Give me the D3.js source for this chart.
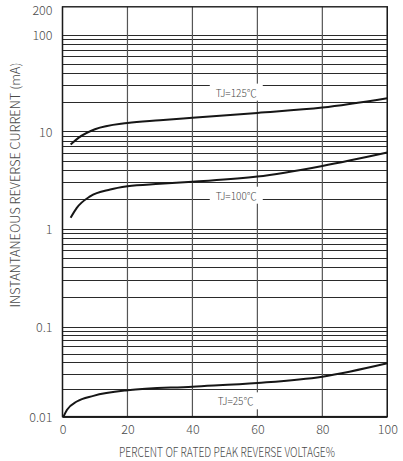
<!DOCTYPE html>
<html>
<head>
<meta charset="utf-8">
<script src="https://cdn.jsdelivr.net/npm/d3@7"></script>
<style>
  body { margin: 0; background: #fff; }
  svg text { font-family: "Noto Sans CJK SC", "Noto Sans", sans-serif; font-weight: 300; fill: #4a4a4a; }
</style>
</head>
<body>
<svg id="chart" width="403" height="461"></svg>
<script>
"use strict";

// percent of rated peak reverse voltage
const pct125 = [2.5, 5, 10, 20, 30, 40, 60, 80, 100]
const cur125 = [7.3, 8.6, 10.5, 12.2, 13.0, 13.8, 15.5, 17.6, 22]

const pct100 = [2.5, 4.4, 8.5, 14.7, 20, 30, 40, 60, 80, 100]
const cur100 = [1.29, 1.63, 2.14, 2.52, 2.72, 2.88, 3.03, 3.42, 4.4, 6.05]

const pct25 = [0.3, 1.4, 4.4, 9.5, 20, 40, 60, 80, 100]
const cur25 = [0.01, 0.0119, 0.0147, 0.017, 0.0196, 0.0215, 0.0236, 0.0277, 0.039]

const seriesLabels = ["TJ=125℃", "TJ=100℃", "TJ=25℃"]

const xTicks = [0, 20, 40, 60, 80, 100]
const yTicks = [0.01, 0.1, 1, 10, 100, 200]
const yTickLabels = ["0.01", "0.1", "1", "10", "100", "200"]

const svg = d3.select("#chart")
const pLeft = 62.5, pRight = 387.3, pTop = 6.8, pBottom = 416.6

let x = d3.scaleLinear().domain([0, 100]).range([pLeft, pRight])
// decades in the source are not quite equal, so the log scale is piecewise
let y = d3.scaleLog()
  .domain([0.01, 0.1, 1, 10, 100, 200])
  .range([pBottom, 326.5, 228.5, 131.3, 34.8, pTop])

// horizontal grid: decade lines + 2..9 in every full decade
let hLines = []
for (let d = 0.01; d < 50; d *= 10) {
  for (let k = 1; k <= 9; k++) hLines.push(+(d * k).toPrecision(3))
}
hLines.push(100)

const grid = svg.append("g")
grid.selectAll("line.h").data(hLines).enter().append("line")
  .attr("class", "h")
  .attr("x1", pLeft).attr("x2", pRight)
  .attr("y1", d => Math.round(y(d)) + 0.5).attr("y2", d => Math.round(y(d)) + 0.5)
  .attr("stroke", "#2a2a2a").attr("stroke-width", 1)

grid.selectAll("line.v").data(xTicks).enter().append("line")
  .attr("class", "v")
  .attr("x1", d => x(d)).attr("x2", d => x(d))
  .attr("y1", pTop).attr("y2", pBottom)
  .attr("stroke", "#555").attr("stroke-width", 1.2)

svg.append("rect")
  .attr("x", pLeft).attr("y", pTop)
  .attr("width", pRight - pLeft).attr("height", pBottom - pTop)
  .attr("fill", "none").attr("stroke", "#1a1a1a").attr("stroke-width", 1.4)

// axes (text only, no tick marks)
let xAxis = svg.append("g")
  .attr("transform", "translate(0," + (pBottom + 4) + ")")
  .call(d3.axisBottom(x).tickValues(xTicks).tickSize(0).tickPadding(5))
xAxis.select(".domain").remove()
xAxis.selectAll("text").attr("font-size", 12.5).attr("fill", null)
  .style("font-family", null)

let yAxis = svg.append("g")
  .attr("transform", "translate(" + (pLeft - 10) + ",0)")
  .call(d3.axisLeft(y).tickValues(yTicks).tickFormat((d, i) => yTickLabels[i]).tickSize(0).tickPadding(0))
yAxis.select(".domain").remove()
yAxis.selectAll("text").attr("font-size", 12.5).attr("fill", null)
  .style("font-family", null)
  .attr("dy", d => d === 200 ? "0.6em" : "0.38em")

svg.append("text")
  .attr("x", 227).attr("y", 457)
  .attr("text-anchor", "middle").attr("font-size", 12.5)
  .attr("textLength", 216).attr("lengthAdjust", "spacingAndGlyphs")
  .text("PERCENT OF RATED PEAK REVERSE VOLTAGE%")

svg.append("text")
  .attr("transform", "translate(19.5,185) rotate(-90)")
  .attr("text-anchor", "middle").attr("font-size", 12.5)
  .attr("textLength", 245).attr("lengthAdjust", "spacingAndGlyphs")
  .text("INSTANTANEOUS REVERSE CURRENT (mA)")

// series labels sit in white gaps on the grid
let labelPos = [[53.5, 24.4], [53.5, 2.11], [53.3, 0.0143]]
labelPos.forEach((p, i) => {
  let g = svg.append("g")
  let box = g.append("rect").attr("fill", "#fff")
  let t = g.append("text")
    .attr("x", x(p[0])).attr("y", y(p[1]))
    .attr("text-anchor", "middle").attr("dominant-baseline", "middle")
    .attr("font-size", 10)
    .text(seriesLabels[i])
  let bb = t.node().getBBox()
  box.attr("x", bb.x - 6).attr("y", bb.y - 1)
    .attr("width", bb.width + 12).attr("height", bb.height + 2)
})

let line = d3.line().x(d => x(d[0])).y(d => y(d[1])).curve(d3.curveMonotoneX)
const series = [[pct125, cur125], [pct100, cur100], [pct25, cur25]]
svg.selectAll("path.curve").data(series).enter().append("path")
  .attr("class", "curve")
  .attr("d", s => line(d3.zip(s[0], s[1])))
  .attr("fill", "none").attr("stroke", "#161616").attr("stroke-width", 2)
</script>
</body>
</html>
